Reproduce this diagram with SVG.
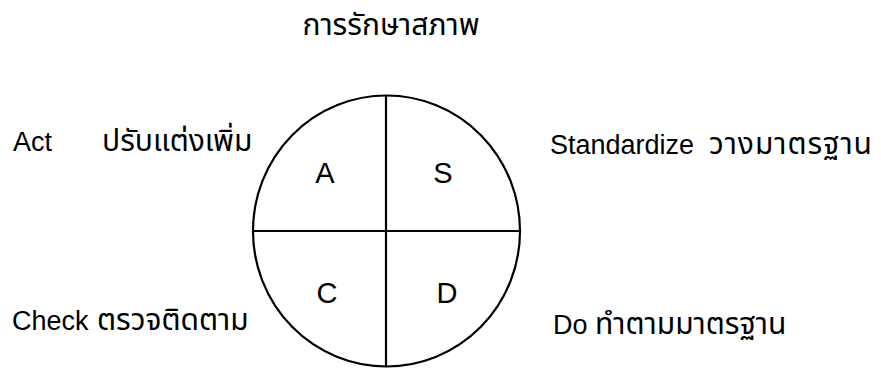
<svg xmlns="http://www.w3.org/2000/svg" width="881" height="373" viewBox="0 0 881 373">
<style>
.bg{fill:#ffffff}
.ln{fill:none;stroke:#000;stroke-width:2.2}
.q{font-family:"Liberation Sans",Arial,sans-serif;font-size:29px;fill:#000;text-anchor:middle}
.lb{font-family:"Liberation Sans",Arial,sans-serif;font-size:27px;fill:#000}
.th{font-family:"Noto Sans Thai","Noto Sans","Liberation Sans",sans-serif;font-size:30px;fill:#000}
</style>
<rect class="bg" x="0" y="0" width="881" height="373"/>
<g id="title"><text class="th" x="391" y="35" text-anchor="middle">การรักษาสภาพ</text></g>
<g id="connectors">
<ellipse class="ln" cx="386.5" cy="231" rx="133.5" ry="135.5"/>
<line class="ln" x1="386" y1="95.5" x2="386" y2="366.5"/>
<line class="ln" x1="253" y1="231" x2="520" y2="231"/>
</g>
<g id="quadA"><text class="q" x="325" y="183">A</text></g>
<g id="quadS"><text class="q" x="443" y="183">S</text></g>
<g id="quadC"><text class="q" x="327" y="303">C</text></g>
<g id="quadD"><text class="q" x="447" y="303">D</text></g>
<g id="act"><text class="lb" x="13" y="151">Act</text><text class="th" x="102" y="151">ปรับแต่งเพิ่ม</text></g>
<g id="standardize"><text class="lb" x="550" y="154">Standardize</text><text class="th" x="709" y="154" textLength="163" lengthAdjust="spacing">วางมาตรฐาน</text></g>
<g id="check"><text class="lb" x="12" y="330">Check</text><text class="th" x="97" y="330">ตรวจติดตาม</text></g>
<g id="do"><text class="lb" x="553" y="334">Do</text><text class="th" x="595" y="334">ทำตามมาตรฐาน</text></g>
</svg>
